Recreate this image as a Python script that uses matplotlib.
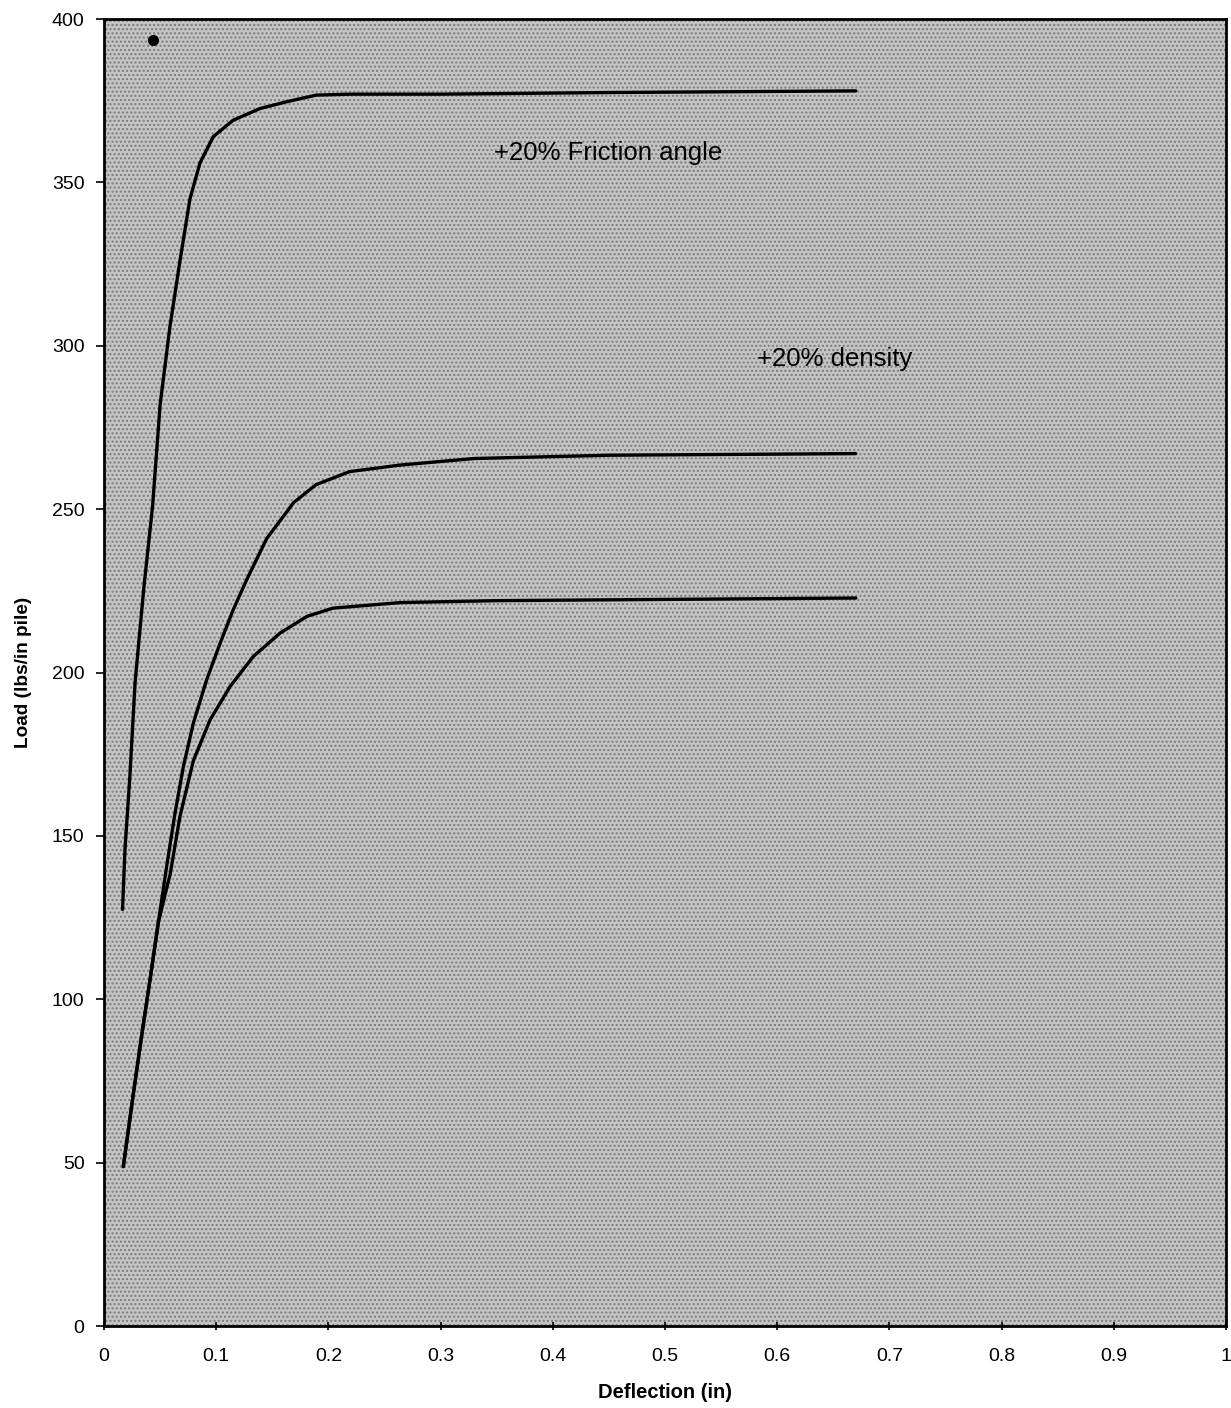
import matplotlib
matplotlib.use("Agg")
import matplotlib.pyplot as plt
from matplotlib.patches import Rectangle

plt.rcParams['font.family'] = ['Liberation Sans', 'DejaVu Sans']
plt.rcParams['hatch.linewidth'] = 1.0

# Load-deflection curves (deflection in inches, load in lbs/in of pile)
friction_x = [0.0165, 0.0187, 0.023, 0.0277, 0.032, 0.0355, 0.0433, 0.050, 0.0588,
              0.0677, 0.0766, 0.0856, 0.0974, 0.115, 0.139, 0.163, 0.189, 0.219,
              0.30, 0.45, 0.67]
friction_y = [127.5, 146, 168, 197, 213, 226, 251, 282, 306,
              326, 345, 356, 364, 369, 372.6, 374.7, 376.7, 377,
              377, 377.5, 378]

density_x = [0.0172, 0.0261, 0.0336, 0.041, 0.0484, 0.0558, 0.0633, 0.0707, 0.0796,
             0.0914, 0.1034, 0.115, 0.127, 0.145, 0.169, 0.189, 0.219, 0.264,
             0.33, 0.45, 0.67]
density_y = [48.8, 71, 89, 106, 123.5, 140.6, 157, 171.2, 184.5,
             197.7, 208.9, 219.1, 228.3, 241, 252, 257.5, 261.5, 263.5,
             265.5, 266.5, 267]

base_x = [0.0172, 0.0261, 0.0336, 0.041, 0.0484, 0.0558, 0.0588, 0.0677, 0.0796,
          0.0945, 0.1123, 0.133, 0.157, 0.181, 0.204, 0.264, 0.35, 0.67]
base_y = [48.8, 71, 89, 106, 123.5, 134, 138, 156, 173,
          185.5, 195.7, 204.9, 212.1, 217.2, 219.7, 221.4, 222, 222.8]

x_ticks = [0, 0.1, 0.2, 0.3, 0.4, 0.5, 0.6, 0.7, 0.8, 0.9, 1]
x_tick_labels = ['0', '0.1', '0.2', '0.3', '0.4', '0.5', '0.6', '0.7', '0.8', '0.9', '1']
y_ticks = [0, 50, 100, 150, 200, 250, 300, 350, 400]

fig = plt.figure(figsize=(12.31, 14.08), dpi=100)
ax = fig.add_axes([0.0845, 0.0582, 0.9115, 0.9283])
ax.set_facecolor('#c4c4c4')
ax.add_patch(Rectangle((0, 0), 1, 1, transform=ax.transAxes, facecolor='none',
                       edgecolor='#7a7a7a', hatch='....', linewidth=0, zorder=0))

for xs, ys in [(friction_x, friction_y), (density_x, density_y), (base_x, base_y)]:
    ax.plot(xs, ys, color='black', linewidth=2.4, solid_capstyle='round',
            solid_joinstyle='round', zorder=3)

# small ink spot near the top
ax.plot([0.044], [393.5], marker='o', markersize=7, color='black', zorder=3)

ax.text(0.348, 359, '+20% Friction angle', fontsize=18.5, va='center', ha='left')
ax.text(0.582, 296, '+20% density', fontsize=18.5, va='center', ha='left')

ax.set_xlim(0, 1)
ax.set_ylim(0, 400)
ax.set_xticks(x_ticks)
ax.set_xticklabels(x_tick_labels)
ax.set_yticks(y_ticks)
ax.tick_params(axis='both', labelsize=14, width=1.2, length=6)
ax.tick_params(axis='x', direction='inout', pad=13)
ax.tick_params(axis='y', direction='out', pad=8)
for s in ax.spines.values():
    s.set_linewidth(2.0)

ax.set_xlabel('Deflection (in)', fontsize=14.5, fontweight='bold', labelpad=13)
ax.set_ylabel('Load (lbs/in pile)', fontsize=13.7, fontweight='bold', labelpad=14)

fig.savefig('out.png', dpi=100)
